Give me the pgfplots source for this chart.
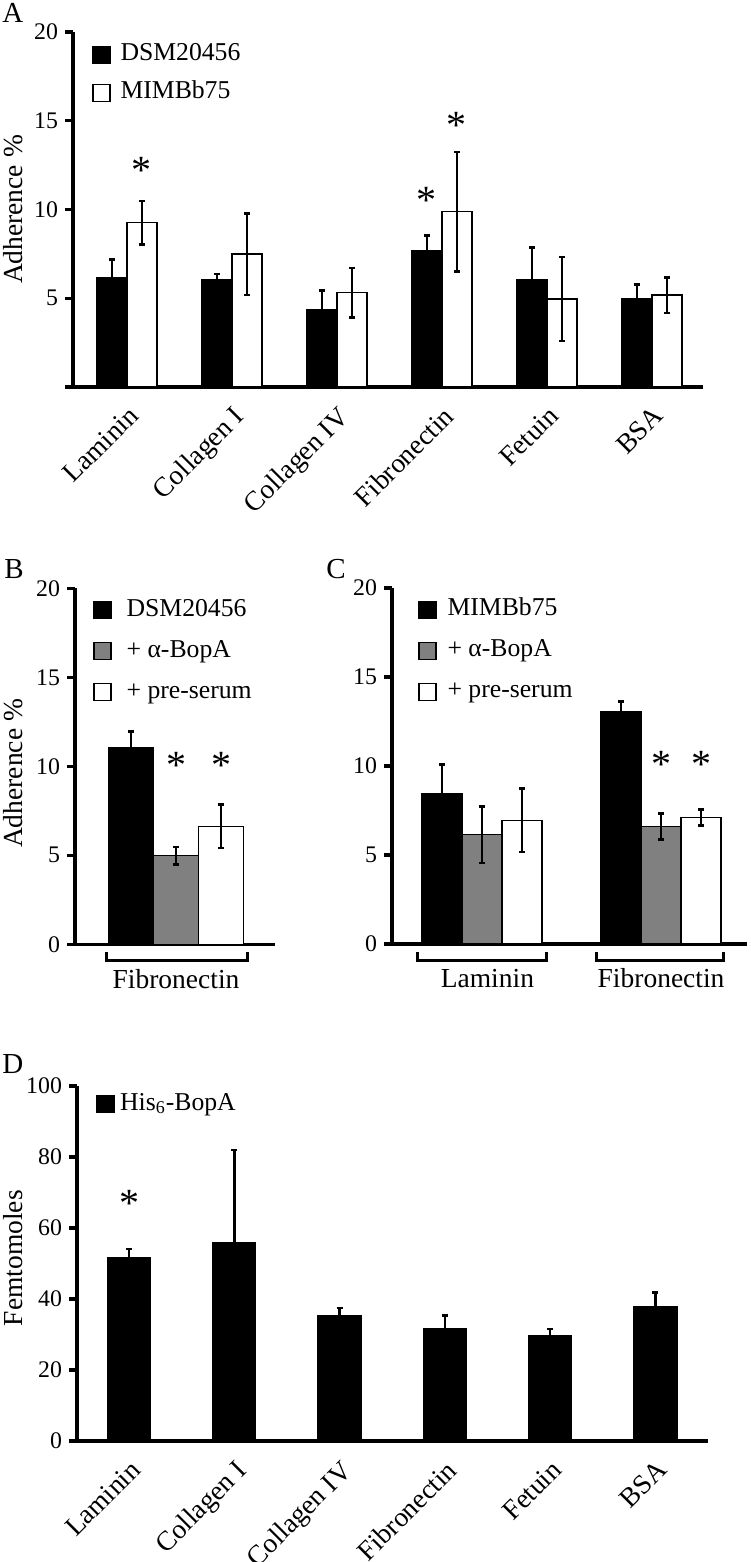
\documentclass[border=0pt]{standalone}
\usepackage{pgfplots}
\pgfplotsset{compat=1.18}
\usepackage{fontspec}
\setmainfont{Liberation Serif}
\newcommand{\tickfont}{\fontsize{11.9}{13}\selectfont}
\newcommand{\legfont}{\fontsize{12.85}{15}\selectfont}
\newcommand{\labfont}{\fontsize{13.75}{16}\selectfont}
\newcommand{\letfont}{\fontsize{14.5}{16}\selectfont}
\newcommand{\astfont}{\fontsize{20}{20}\selectfont}
\tikzset{
  ast/.style={font=\astfont, anchor=base, yshift=-9.2pt, inner sep=0pt},
  brk/.style={line width=1.5pt},
}
\pgfplotsset{
  panel/.style={
    scale only axis,
    axis x line=bottom, axis y line=left,
    axis line style={-, line width=1.7pt},
    enlargelimits=false,
    tick align=outside,
    major tick length=4pt,
    ytick style={line width=1.7pt, black},
    xtick style={draw=none},
    tick label style={font=\tickfont},
    /pgf/number format/assume math mode=true,
    ybar=0pt,
    clip=false,
    legend cell align=left,
    legend style={draw=none, fill=none, font=\legfont, inner sep=0pt, row sep=3pt,
      nodes={text height=9pt, text depth=3pt}},
    legend image code/.code={\draw[#1, line width=0.6pt] (0pt,-4.25pt) rectangle (8.5pt,4.25pt);},
    error bars/y dir=both, error bars/y explicit,
    error bars/error bar style={line width=1.3pt, black},
    error bars/error mark options={rotate=90, mark size=1.5pt, line width=1.3pt, black},
  },
  blk/.style={fill=black, draw=black, line width=0.6pt},
  wht/.style={fill=white, draw=black, line width=0.6pt},
  gry/.style={fill=gray, draw=black, line width=0.6pt},
}
\begin{document}
\begin{tikzpicture}
\useasboundingbox (0,0) rectangle (375pt,-781pt);
% panel letters
\node[anchor=base west, inner sep=0pt, font=\letfont] at (1pt,-11.5pt) {A};
\node[anchor=base west, inner sep=0pt, font=\letfont] at (2pt,-289pt) {B};
\node[anchor=base west, inner sep=0pt, font=\letfont] at (163pt,-289pt) {C};
\node[anchor=base west, inner sep=0pt, font=\letfont] at (1pt,-536.5pt) {D};

% ---------------- Panel A ----------------
\begin{axis}[panel, at={(36.5pt,-193.5pt)}, anchor=south west,
  width=315pt, height=177.5pt,
  xmin=-0.514, xmax=5.486, ymin=0, ymax=20,
  bar width=15pt,
  ytick={0,5,10,15,20}, yticklabels={,5,10,15,20},
  xtick={0,...,5},
  xticklabels={Laminin,Collagen I,Collagen IV,Fibronectin,Fetuin,BSA},
  xticklabel style={rotate=45, anchor=north east, font=\labfont},
  ylabel={Adherence \%},
  every axis y label/.style={at={(axis description cs:-0.0952,0.5)}, rotate=90, anchor=center, font=\labfont},
  legend style={at={(axis description cs:0.03,0.982)}, anchor=north west, row sep=3pt,
    /tikz/every odd column/.append style={column sep=3pt}},
]
\addplot[blk] coordinates {(0,6.15) +- (0,1.05) (1,6.03) +- (0,0.34) (2,4.34) +- (0,1.09)
  (3,7.68) +- (0,0.85) (4,6.07) +- (0,1.8) (5,4.96) +- (0,0.83)};
\addlegendentry{DSM20456}
\addplot[wht] coordinates {(0,9.26) +- (0,1.22) (1,7.49) +- (0,2.3) (2,5.31) +- (0,1.4)
  (3,9.88) +- (0,3.37) (4,4.96) +- (0,2.37) (5,5.18) +- (0,1.0)};
\addlegendentry{MIMBb75}
\node[ast, xshift=7.5pt] at (axis cs:0,12.5) {*};
\node[ast, xshift=-7.5pt] at (axis cs:3,10.82) {*};
\node[ast, xshift=7.5pt] at (axis cs:3,15.04) {*};
\end{axis}

% ---------------- Panel B ----------------
\begin{axis}[panel, at={(37.5pt,-472.15pt)}, anchor=south west,
  width=100pt, height=178pt,
  xmin=-1.01, xmax=0.99, ymin=0, ymax=20,
  bar width=22.5pt,
  ytick={0,5,10,15,20},
  xtick=\empty,
  ylabel={Adherence \%},
  every axis y label/.style={at={(axis description cs:-0.3075,0.48)}, rotate=90, anchor=center, font=\labfont},
  legend style={at={(axis description cs:0.09,0.985)}, anchor=north west, row sep=4.5pt,
    /tikz/every odd column/.append style={column sep=5.5pt}},
]
\addplot[blk] coordinates {(0,11.04) +- (0,0.9)};
\addlegendentry{DSM20456}
\addplot[gry] coordinates {(0,4.98) +- (0,0.49)};
\addlegendentry{+ α-BopA}
\addplot[wht] coordinates {(0,6.64) +- (0,1.22)};
\addlegendentry{+ pre-serum}
\node[ast] at (axis cs:0,10.35) {*};
\node[ast, xshift=22.5pt] at (axis cs:0,10.35) {*};
\draw[brk] (axis cs:-0.70,-0.45) -- (axis cs:-0.70,-0.9) -- (axis cs:0.71,-0.9) -- (axis cs:0.71,-0.45);
\node[anchor=base, font=\labfont, inner sep=0pt] at (axis cs:0,-2.47) {Fibronectin};
\end{axis}

% ---------------- Panel C ----------------
\begin{axis}[panel, at={(196pt,-472pt)}, anchor=south west,
  width=177.5pt, height=178pt,
  xmin=-0.503, xmax=1.48, ymin=0, ymax=20,
  bar width=20pt,
  ytick={0,5,10,15,20},
  xtick=\empty,
  legend style={at={(axis description cs:0.073,0.985)}, anchor=north west, row sep=4.5pt,
    /tikz/every odd column/.append style={column sep=3.5pt}},
]
\addplot[blk] coordinates {(0,8.43) +- (0,1.65) (1,13.03) +- (0,0.6)};
\addlegendentry{MIMBb75}
\addplot[gry] coordinates {(0,6.14) +- (0,1.6) (1,6.59) +- (0,0.73)};
\addlegendentry{+ α-BopA}
\addplot[wht] coordinates {(0,6.94) +- (0,1.78) (1,7.10) +- (0,0.45)};
\addlegendentry{+ pre-serum}
\node[ast] at (axis cs:1,10.4) {*};
\node[ast, xshift=20pt] at (axis cs:1,10.4) {*};
\draw[brk] (axis cs:-0.358,-0.45) -- (axis cs:-0.358,-0.9) -- (axis cs:0.358,-0.9) -- (axis cs:0.358,-0.45);
\draw[brk] (axis cs:0.637,-0.45) -- (axis cs:0.637,-0.9) -- (axis cs:1.346,-0.9) -- (axis cs:1.346,-0.45);
\node[anchor=base, font=\labfont, inner sep=0pt] at (axis cs:0.03,-2.47) {Laminin};
\node[anchor=base, font=\labfont, inner sep=0pt] at (axis cs:1.0,-2.47) {Fibronectin};
\end{axis}

% ---------------- Panel D ----------------
\begin{axis}[panel, at={(38.5pt,-720.5pt)}, anchor=south west,
  width=315.5pt, height=177.5pt,
  xmin=-0.494, xmax=5.499, ymin=0, ymax=100,
  bar width=21.5pt,
  ytick={0,20,40,60,80,100},
  xtick={0,...,5},
  xticklabels={Laminin,Collagen I,Collagen IV,Fibronectin,Fetuin,BSA},
  xticklabel style={rotate=45, anchor=north east, font=\labfont},
  ylabel={Femtomoles},
  every axis y label/.style={at={(axis description cs:-0.102,0.515)}, rotate=90, anchor=center, font=\labfont},
  legend style={at={(axis description cs:0.03,0.995)}, anchor=north west,
    /tikz/every odd column/.append style={column sep=0.8pt}},
]
\addplot[blk] coordinates {(0,51.7) +- (0,2.4) (1,56.0) +- (0,26.0) (2,35.2) +- (0,2.3)
  (3,31.6) +- (0,3.8) (4,29.6) +- (0,1.9) (5,37.8) +- (0,4.1)};
\addlegendentry{His\textsubscript{6}-BopA}
\node[ast] at (axis cs:0,68.4) {*};
\end{axis}
\end{tikzpicture}
\end{document}
